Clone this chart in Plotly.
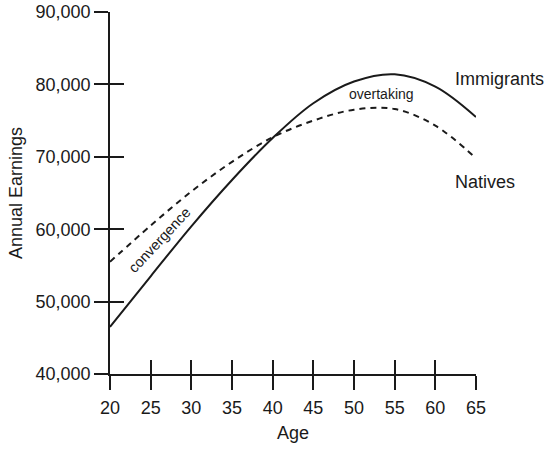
import plotly.graph_objects as go

ages = [20, 25, 30, 35, 40, 45, 50, 55, 60, 65]
immigrants = [46500, 53500, 60400, 66800, 72600, 77400, 80400, 81400, 79700, 75500]
natives = [55500, 60500, 65200, 69300, 72700, 75000, 76500, 76600, 74300, 69800]

x_ticks = [20, 25, 30, 35, 40, 45, 50, 55, 60, 65]
y_ticks = [40000, 50000, 60000, 70000, 80000, 90000]
x_range = [20, 65]
y_range = [40000, 90000]

FONT = "Liberation Sans, Arial, sans-serif"
INK = "#1a1a1a"

fig = go.Figure()
fig.add_trace(go.Scatter(x=ages, y=immigrants, mode="lines", name="Immigrants",
                         line=dict(color=INK, width=2, shape="spline", smoothing=1.0),
                         showlegend=False))
fig.add_trace(go.Scatter(x=ages, y=natives, mode="lines", name="Natives",
                         line=dict(color=INK, width=2, dash="6px,5px", shape="spline", smoothing=1.0),
                         showlegend=False))
# empty trace to activate the overlay axes that carry the inner half of the crossing ticks
fig.add_trace(go.Scatter(x=[], y=[], xaxis="x2", yaxis="y2", showlegend=False, hoverinfo="skip"))

axis_common = dict(showgrid=False, zeroline=False, showline=True, linecolor=INK, linewidth=1.5,
                   tickcolor=INK, tickwidth=1.5, ticklen=14, automargin=False)

fig.update_layout(
    width=550, height=449,
    margin=dict(l=110, r=74, t=12, b=75),
    plot_bgcolor="white", paper_bgcolor="white",
    font=dict(family=FONT, size=18, color=INK),
    xaxis=dict(range=x_range, tickvals=x_ticks, ticks="outside",
               title=dict(text="Age", font=dict(size=18), standoff=9),
               ticklabelstandoff=3, **axis_common),
    yaxis=dict(range=y_range, tickvals=y_ticks, ticks="outside", tickformat=",d",
               title=dict(text="Annual Earnings", font=dict(size=18), standoff=8),
               **axis_common),
    xaxis2=dict(range=x_range, tickvals=x_ticks, ticks="inside", overlaying="x", anchor="y2",
                side="bottom", showticklabels=False, **axis_common),
    yaxis2=dict(range=y_range, tickvals=y_ticks, ticks="inside", overlaying="y", anchor="x2",
                side="left", showticklabels=False, **axis_common),
)

fig.add_annotation(x=26.1, y=58500, text="convergence", textangle=-47, showarrow=False,
                   font=dict(size=14.5, color=INK))
fig.add_annotation(x=53.4, y=78700, text="overtaking", showarrow=False,
                   font=dict(size=14, color=INK))
fig.add_annotation(x=62.2, y=80750, text="Immigrants", showarrow=False, xanchor="left",
                   font=dict(size=18, color=INK))
fig.add_annotation(x=62.2, y=66560, text="Natives", showarrow=False, xanchor="left",
                   font=dict(size=18, color=INK))

fig.write_html("out.html", config={"displayModeBar": False},
               post_script="document.body.style.margin='0';")
